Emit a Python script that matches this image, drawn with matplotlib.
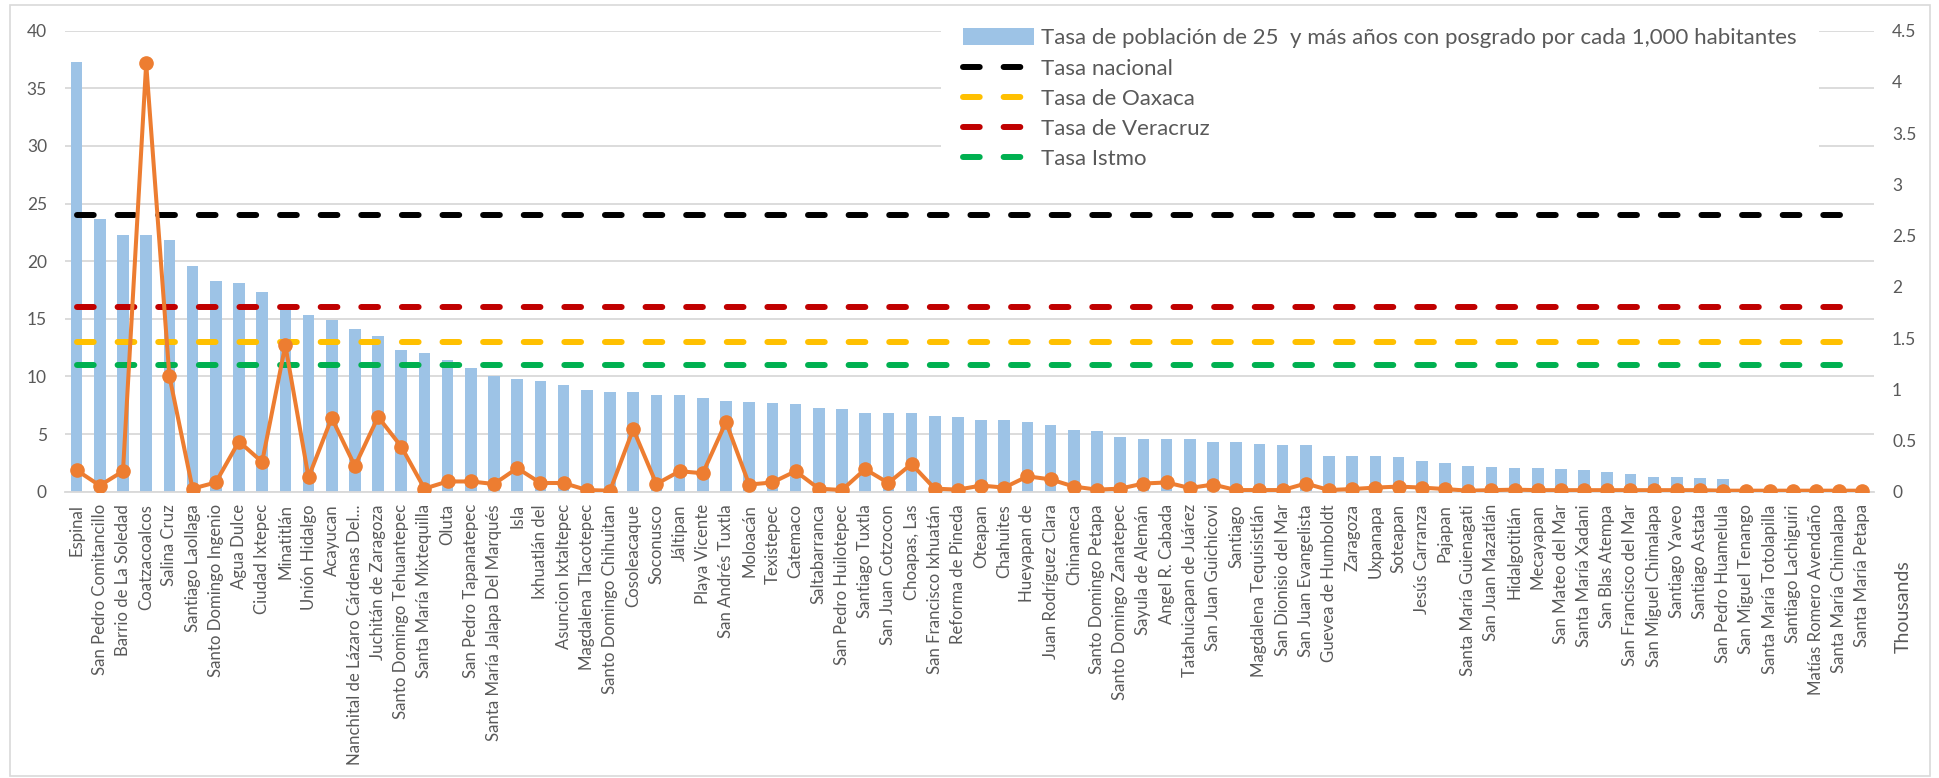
import numpy as np
import matplotlib
matplotlib.use("Agg")
import matplotlib.pyplot as plt
from matplotlib.patches import Rectangle

plt.rcParams['font.family'] = ['Lato', 'DejaVu Sans']

municipios = [
    "Espinal", "San Pedro Comitancillo", "Barrio de La Soledad", "Coatzacoalcos",
    "Salina Cruz", "Santiago Laollaga", "Santo Domingo Ingenio", "Agua Dulce",
    "Ciudad Ixtepec", "Minatitlán", "Unión Hidalgo", "Acayucan",
    "Nanchital de Lázaro Cárdenas Del...", "Juchitán de Zaragoza",
    "Santo Domingo Tehuantepec", "Santa María Mixtequilla", "Oluta",
    "San Pedro Tapanatepec", "Santa María Jalapa Del Marqués", "Isla",
    "Ixhuatlán del", "Asuncion Ixtaltepec", "Magdalena Tlacotepec",
    "Santo Domingo Chihuitan", "Cosoleacaque", "Soconusco", "Jáltipan",
    "Playa Vicente", "San Andrés Tuxtla", "Moloacán", "Texistepec", "Catemaco",
    "Saltabarranca", "San Pedro Huilotepec", "Santiago Tuxtla",
    "San Juan Cotzocon", "Choapas, Las", "San Francisco Ixhuatán",
    "Reforma de Pineda", "Oteapan", "Chahuites", "Hueyapan de",
    "Juan Rodríguez Clara", "Chinameca", "Santo Domingo Petapa",
    "Santo Domingo Zanatepec", "Sayula de Alemán", "Angel R. Cabada",
    "Tatahuicapan de Juárez", "San Juan Guichicovi", "Santiago",
    "Magdalena Tequisistlán", "San Dionisio del Mar", "San Juan Evangelista",
    "Guevea de Humboldt", "Zaragoza", "Uxpanapa", "Soteapan", "Jesús Carranza",
    "Pajapan", "Santa María Guienagati", "San Juan Mazatlán", "Hidalgotitlán",
    "Mecayapan", "San Mateo del Mar", "Santa María Xadani", "San Blas Atempa",
    "San Francisco del Mar", "San Miguel Chimalapa", "Santiago Yaveo",
    "Santiago Astata", "San Pedro Huamelula", "San Miguel Tenango",
    "Santa María Totolapilla", "Santiago Lachiguiri", "Matías Romero Avendaño",
    "Santa María Chimalapa", "Santa María Petapa",
]

tasa = [
    37.3, 23.7, 22.3, 22.3, 21.8, 19.6, 18.3, 18.1, 17.3, 15.75,
    15.3, 14.9, 14.1, 13.55, 12.3, 12.05, 11.4, 10.75, 10.0, 9.74,
    9.62, 9.3, 8.79, 8.64, 8.61, 8.35, 8.35, 8.12, 7.83, 7.75,
    7.66, 7.57, 7.23, 7.14, 6.85, 6.85, 6.8, 6.53, 6.45, 6.24,
    6.18, 6.07, 5.78, 5.32, 5.26, 4.71, 4.6, 4.6, 4.6, 4.34,
    4.28, 4.1, 4.08, 4.05, 3.12, 3.12, 3.12, 3.03, 2.69, 2.51,
    2.22, 2.14, 2.05, 2.05, 1.94, 1.88, 1.68, 1.5, 1.3, 1.3,
    1.16, 1.07, 0, 0, 0, 0, 0, 0,
]

# poblacion con posgrado (miles), eje secundario
miles = [
    0.21, 0.06, 0.20, 4.18, 1.13, 0.03, 0.09, 0.49, 0.29, 1.43,
    0.14, 0.72, 0.25, 0.73, 0.44, 0.03, 0.10, 0.10, 0.075, 0.23,
    0.085, 0.085, 0.016, 0.01, 0.61, 0.075, 0.20, 0.18, 0.68, 0.07,
    0.09, 0.20, 0.03, 0.016, 0.22, 0.085, 0.27, 0.03, 0.02, 0.06,
    0.04, 0.15, 0.12, 0.05, 0.02, 0.03, 0.08, 0.09, 0.036, 0.07,
    0.016, 0.016, 0.016, 0.08, 0.016, 0.026, 0.04, 0.05, 0.04, 0.026,
    0.01, 0.015, 0.02, 0.015, 0.015, 0.015, 0.015, 0.015, 0.015, 0.015,
    0.015, 0.01, 0.01, 0.01, 0.01, 0.01, 0.01, 0.01,
]

tasa_nacional = 24.0
tasa_oaxaca = 13.0
tasa_veracruz = 16.0
tasa_istmo = 11.0

gris = '#595959'
n = len(municipios)
x = np.arange(n)

fig = plt.figure(figsize=(19.39, 7.78), dpi=100)
ax = fig.add_axes([65/1939, 1-491.7/778, 1809/1939, 461/778])
ax2 = ax.twinx()

ax.bar(x, tasa, width=0.5, color='#9dc3e6', zorder=2,
       label='Tasa de población de 25  y más años con posgrado por cada 1,000 habitantes')
refs = [(tasa_nacional, '#000000', 'Tasa nacional'),
        (tasa_oaxaca, '#ffc000', 'Tasa de Oaxaca'),
        (tasa_veracruz, '#c00000', 'Tasa de Veracruz'),
        (tasa_istmo, '#00b050', 'Tasa Istmo')]
for val, col, lab in refs:
    ax.plot(x, np.full(n, val), color=col, lw=4.3, dashes=(2.8, 4.0),
            dash_capstyle='round', zorder=3, label=lab)

ax2.plot(x, miles, color='#ed7d31', lw=2.9, marker='o', markersize=9.5, zorder=4)

ax.set_xlim(-0.5, n - 0.5)
ax.set_ylim(0, 40)
ax.set_yticks(np.arange(0, 41, 5))
ax2.set_ylim(0, 4.5)
ax2.set_yticks(np.arange(0, 4.51, 0.5))
ax2.set_yticklabels(['0', '0.5', '1', '1.5', '2', '2.5', '3', '3.5', '4', '4.5'])

ax.grid(axis='y', color='#d9d9d9', lw=1.3, zorder=0)
ax.set_axisbelow(True)
for a in (ax, ax2):
    for s in a.spines.values():
        s.set_visible(False)
ax.spines['bottom'].set_visible(True)
ax.spines['bottom'].set_color('#d9d9d9')
ax.spines['bottom'].set_linewidth(1.3)

ax.set_xticks(x)
ax.set_xticklabels(municipios, rotation=90, fontsize=12.1, color=gris)
ax.tick_params(axis='x', length=0, pad=9)
ax.tick_params(axis='y', length=0, pad=13, labelsize=12.5, labelcolor=gris)
ax2.tick_params(axis='y', length=0, pad=13, labelsize=12.5, labelcolor=gris)

fig.text(1903/1939, 1-607/778, 'Thousands', rotation=90, ha='center', va='center',
         fontsize=14, color=gris)

h, l = ax.get_legend_handles_labels()
h = [h[-1]] + h[:-1]
l = [l[-1]] + l[:-1]
leg = ax2.legend(h, l, loc='upper left', bbox_to_anchor=(941/1939, 1-6/778),
                 bbox_transform=fig.transFigure, fontsize=16, frameon=True,
                 facecolor='white', edgecolor='none', framealpha=1, fancybox=False,
                 borderpad=1.0, borderaxespad=0, handlelength=3.2, handleheight=0.8,
                 handletextpad=0.3, labelspacing=0.45)
for t in leg.get_texts():
    t.set_color(gris)

fig.patches.append(Rectangle((10/1939, 2/778), 1920/1939, 771/778, transform=fig.transFigure,
                             fill=False, edgecolor='#d9d9d9', lw=1.2))

fig.savefig('out.png', dpi=100)
